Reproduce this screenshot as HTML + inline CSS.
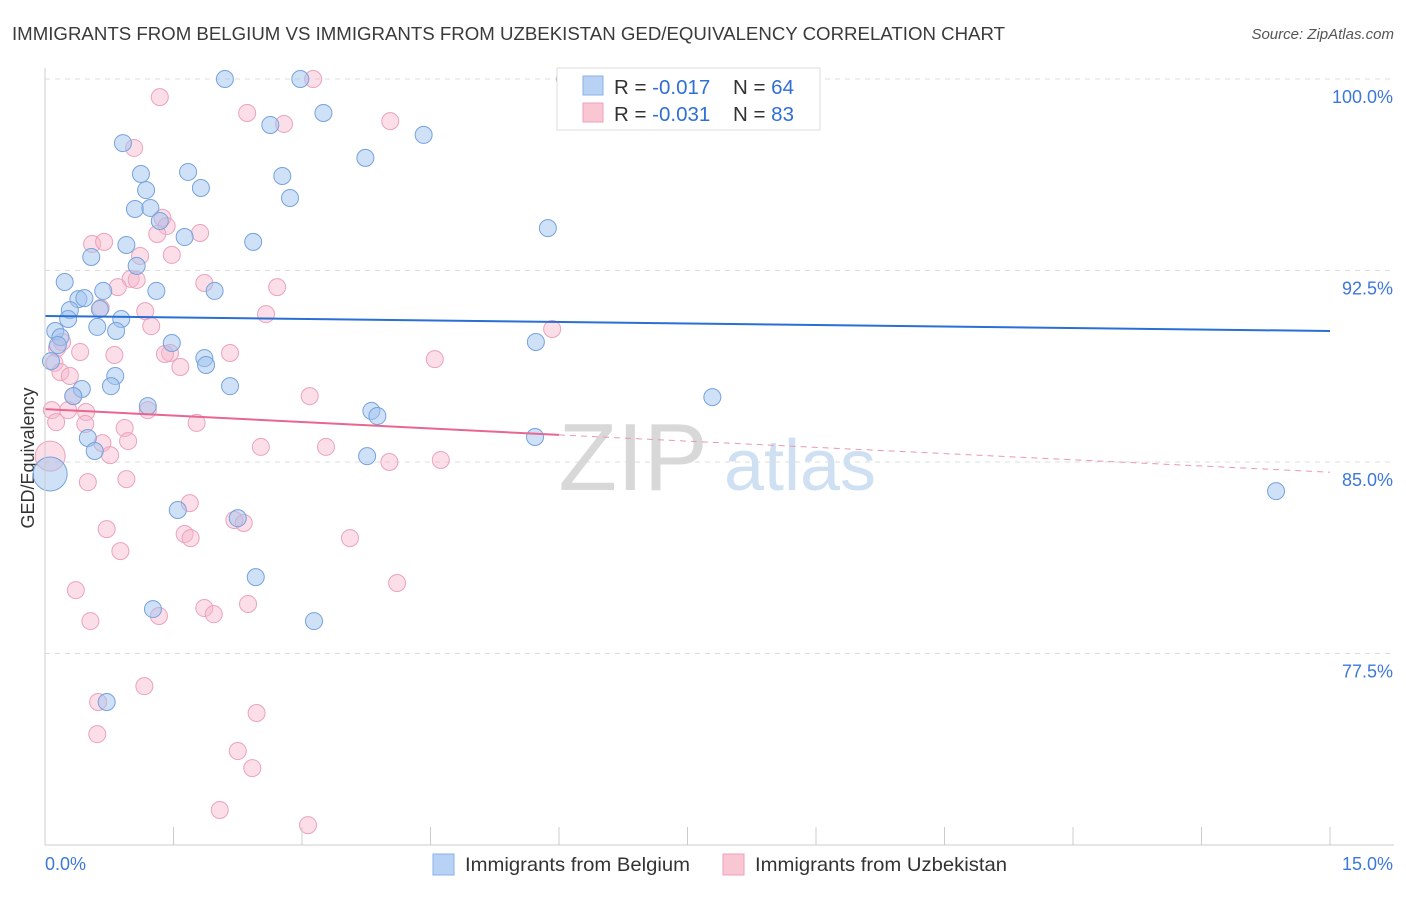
<!DOCTYPE html>
<html><head><meta charset="utf-8"><style>
body{margin:0;background:#fff;font-family:"Liberation Sans",sans-serif;}
svg text{font-family:"Liberation Sans",sans-serif;}
</style></head><body>
<svg id="chart" width="1406" height="892" xmlns="http://www.w3.org/2000/svg">
<text x="12" y="40" font-size="18" fill="#3a3a3a" textLength="993" lengthAdjust="spacingAndGlyphs">IMMIGRANTS FROM BELGIUM VS IMMIGRANTS FROM UZBEKISTAN GED/EQUIVALENCY CORRELATION CHART</text>
<text x="1394" y="39" font-size="15" fill="#555" font-style="italic" text-anchor="end">Source: ZipAtlas.com</text>
<text x="34" y="458" font-size="18" fill="#333" text-anchor="middle" transform="rotate(-90 34 458)">GED/Equivalency</text>
<g id="grid"></g>
<g><text x="633" y="490" font-size="96" fill="#d8d8d8" font-family="Liberation Serif" text-anchor="middle">ZIP</text><text x="800" y="490" font-size="72" fill="#cfe0f2" text-anchor="middle">atlas</text></g>
<g id="points"></g>
<g id="trends"></g>
<g id="axes"></g>
<g>
<rect x="557" y="68" width="263" height="62" fill="#fff" stroke="#ddd"/>
<rect x="583" y="76" width="20" height="19" fill="#b8d2f5" stroke="#8ab0e6"/>
<rect x="583" y="103" width="20" height="19" fill="#f9c6d4" stroke="#eea0b8"/>
<text x="614" y="94" font-size="20.5" fill="#333">R = <tspan fill="#2f6fd6">-0.017</tspan></text>
<text x="733" y="94" font-size="20.5" fill="#333">N = <tspan fill="#2f6fd6">64</tspan></text>
<text x="614" y="121" font-size="20.5" fill="#333">R = <tspan fill="#2f6fd6">-0.031</tspan></text>
<text x="733" y="121" font-size="20.5" fill="#333">N = <tspan fill="#2f6fd6">83</tspan></text>
</g>
<g>
<rect x="433" y="854" width="21" height="21" fill="#b8d2f5" stroke="#8ab0e6"/>
<text x="465" y="871" font-size="19.5" fill="#333" textLength="225" lengthAdjust="spacingAndGlyphs">Immigrants from Belgium</text>
<rect x="723" y="854" width="21" height="21" fill="#f9c6d4" stroke="#eea0b8"/>
<text x="755" y="871" font-size="19.5" fill="#333" textLength="252" lengthAdjust="spacingAndGlyphs">Immigrants from Uzbekistan</text>
</g>
</svg>
<script>
const blueX=[2.10,2.98,3.25,2.63,4.42,0.91,3.74,1.12,1.67,2.77,1.18,1.82,2.86,1.05,1.23,5.87,1.34,1.63,2.43,0.95,0.54,1.07,0.23,0.68,1.30,1.98,0.39,0.46,0.29,0.64,0.27,0.89,0.61,0.12,0.83,0.18,0.15,1.48,5.73,1.86,1.88,0.07,0.82,0.43,0.77,2.16,7.79,0.33,1.20,3.81,3.88,0.50,5.72,0.58,3.76,14.37,1.55,2.25,2.46,1.26,3.14,0.72,6.07,0.06];
const blueY=[100.0,100.0,98.67,98.20,97.81,97.49,96.91,96.28,96.36,96.20,95.65,95.73,95.34,94.91,94.95,94.16,94.44,93.81,93.62,93.50,93.03,92.68,92.05,91.70,91.70,91.70,91.38,91.42,90.95,90.99,90.60,90.60,90.29,90.13,90.13,89.89,89.58,89.66,89.70,89.07,88.80,88.95,88.37,87.86,87.97,87.97,87.54,87.58,87.19,87.00,86.80,85.94,85.98,85.43,85.23,83.86,83.12,82.80,80.49,79.24,78.77,75.60,100.0,84.53];
const pinkX=[3.13,1.34,2.36,4.03,2.79,1.04,1.37,1.42,1.81,1.31,0.55,0.69,1.11,1.48,1.00,1.07,0.85,1.86,2.71,0.65,1.17,2.58,1.24,5.92,0.20,0.14,0.41,1.46,0.81,1.40,2.16,4.55,0.11,1.58,0.18,0.29,0.33,3.09,0.27,0.48,1.20,0.08,1.77,0.93,0.47,0.13,0.97,2.52,3.28,0.67,0.76,4.02,4.62,0.50,0.95,1.69,2.21,2.32,0.72,1.63,1.70,3.56,0.88,4.11,0.36,1.86,1.97,1.33,2.37,0.53,0.62,1.16,2.47,0.61,2.25,2.42,2.04,3.07,0.06];
const pinkY=[100.0,99.29,98.67,98.35,98.24,97.30,94.56,94.24,93.97,93.93,93.54,93.62,93.07,93.11,92.17,92.13,91.85,92.01,91.85,91.03,90.91,90.79,90.32,90.21,89.70,89.46,89.31,89.27,89.19,89.23,89.27,89.03,88.88,88.72,88.52,88.37,87.58,87.58,87.03,86.96,87.03,87.03,86.53,86.33,86.49,86.56,85.82,85.59,85.59,85.74,85.27,85.00,85.08,84.21,84.33,83.39,82.73,82.61,82.37,82.18,82.02,82.02,81.51,80.26,79.98,79.28,79.04,78.97,79.44,78.77,75.60,76.22,75.17,74.34,73.68,73.01,71.37,70.78,85.23];
const blueSize=blueX.map((v,i)=>i===blueX.length-1?17:8.5);
const pinkSize=pinkX.map((v,i)=>i===pinkX.length-1?15:8.5);
const yTicks=[100.0,92.5,85.0,77.5];
const yTickLabels=["100.0%","92.5%","85.0%","77.5%"];
const xTicks=[0,1.5,3,4.5,6,7.5,9,10.5,12,13.5,15];
const blueTrend=[[0,90.72],[15,90.13]];
const pinkTrendSolid=[[0,87.07],[6,86.06]];
const pinkTrendDash=[[6,86.06],[15,84.6]];

const NS="http://www.w3.org/2000/svg";
const X0=45,X1=1330,Y0=845,Y1=79;
function sx(v){return X0+(v/15)*(X1-X0);}
function sy(v){return Y0-((v-70)/30)*(Y0-Y1);}
function mk(tag,attrs,parent){const e=document.createElementNS(NS,tag);for(const k in attrs)e.setAttribute(k,attrs[k]);parent.appendChild(e);return e;}
const grid=document.getElementById('grid'),axes=document.getElementById('axes'),pts=document.getElementById('points'),tr=document.getElementById('trends');
yTicks.forEach((t,i)=>{
  const l=mk('line',{x1:X0,x2:1394,y1:sy(t),y2:sy(t),stroke:'#dcdcdc','stroke-dasharray':'5,5'},grid);
  
  
  const tx=mk('text',{x:1393,y:sy(t)+24,'font-size':18,fill:'#3d78d8','text-anchor':'end'},axes);
  tx.textContent=yTickLabels[i];
  
  
});
const xa=mk('line',{x1:X0,x2:1394,y1:Y0,y2:Y0,stroke:'#ccc'},axes);


const ya=mk('line',{x1:X0,x2:X0,y1:68,y2:Y0,stroke:'#ccc'},axes);


xTicks.forEach(t=>{
  const l=mk('line',{x1:sx(t),x2:sx(t),y1:Y0,y2:Y0-18,stroke:'#ccc'},axes);
  
  
});
const xl0=mk('text',{x:45,y:870,'font-size':18,fill:'#3d78d8'},axes);xl0.textContent='0.0%';


const xl1=mk('text',{x:1393,y:870,'font-size':18,fill:'#3d78d8','text-anchor':'end'},axes);xl1.textContent='15.0%';


pinkX.forEach((v,i)=>{
  const c=mk('circle',{cx:sx(v),cy:sy(pinkY[i]),r:pinkSize[i],fill:'rgba(246,182,203,0.45)',stroke:'#eba3bb','stroke-width':1},pts);
  
  
});
blueX.forEach((v,i)=>{
  const c=mk('circle',{cx:sx(v),cy:sy(blueY[i]),r:blueSize[i],fill:'rgba(160,195,240,0.5)',stroke:'#76a2dd','stroke-width':1},pts);
  
  
});
const bl=mk('line',{x1:sx(blueTrend[0][0]),y1:sy(blueTrend[0][1]),x2:sx(blueTrend[1][0]),y2:sy(blueTrend[1][1]),stroke:'#2a6fd3','stroke-width':2},tr);


const pl=mk('line',{x1:sx(pinkTrendSolid[0][0]),y1:sy(pinkTrendSolid[0][1]),x2:sx(pinkTrendSolid[1][0]),y2:sy(pinkTrendSolid[1][1]),stroke:'#e86690','stroke-width':2},tr);


const pd=mk('line',{x1:sx(pinkTrendDash[0][0]),y1:sy(pinkTrendDash[0][1]),x2:sx(pinkTrendDash[1][0]),y2:sy(pinkTrendDash[1][1]),stroke:'#e898b2','stroke-width':1,'stroke-dasharray':'6,5'},tr);


</script>
</body></html>
